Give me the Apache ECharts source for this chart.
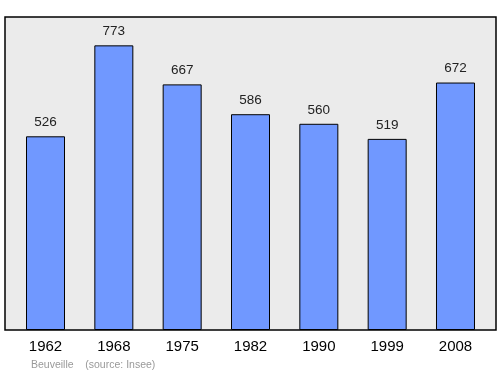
<!DOCTYPE html>
<html><head><meta charset="utf-8">
<script src="https://cdn.jsdelivr.net/npm/echarts@6/dist/echarts.min.js"></script>
<style>html,body{margin:0;padding:0;background:#fff}#c{width:500px;height:374px}</style>
</head><body><div id="c"></div>
<script>
const years = ['1962','1968','1975','1982','1990','1999','2008'];
const population = [526,773,667,586,560,519,672];
const commune = 'Beuveille';
const source = '(source: Insee)';
const FF = 'Liberation Sans, Arial, sans-serif';

const chart = echarts.init(document.getElementById('c'), null, {renderer:'canvas'});
chart.setOption({
  animation:false,
  grid:[
    {left:5, right:4, top:17, bottom:44, show:true, backgroundColor:'#ebebeb', borderColor:'#000', borderWidth:1.5},
    {left:11.35, width:478.3, top:17, bottom:44}
  ],
  xAxis:[
    {gridIndex:0, type:'value', show:false},
    {gridIndex:1, type:'category', data:years, boundaryGap:true, axisLine:{show:false}, axisTick:{show:false},
     axisLabel:{color:'#000', fontSize:15, fontFamily:FF, margin:9}}
  ],
  yAxis:[
    {gridIndex:0, type:'value', show:false, splitLine:{show:false}},
    {gridIndex:1, type:'value', min:0, max:850, show:false, splitLine:{show:false}}
  ],
  series:[{type:'bar', xAxisIndex:1, yAxisIndex:1, data:population, barWidth:39,
    itemStyle:{color:'#7098ff', borderColor:'#000', borderWidth:1},
    label:{show:true, position:'top', distance:7, color:'#222', fontSize:13.5, fontFamily:FF}}],
  graphic:[{type:'text', left:31, top:360, style:{text:commune+'    '+source, fill:'#999', fontSize:10.5, fontFamily:FF}}]
});
</script></body></html>
